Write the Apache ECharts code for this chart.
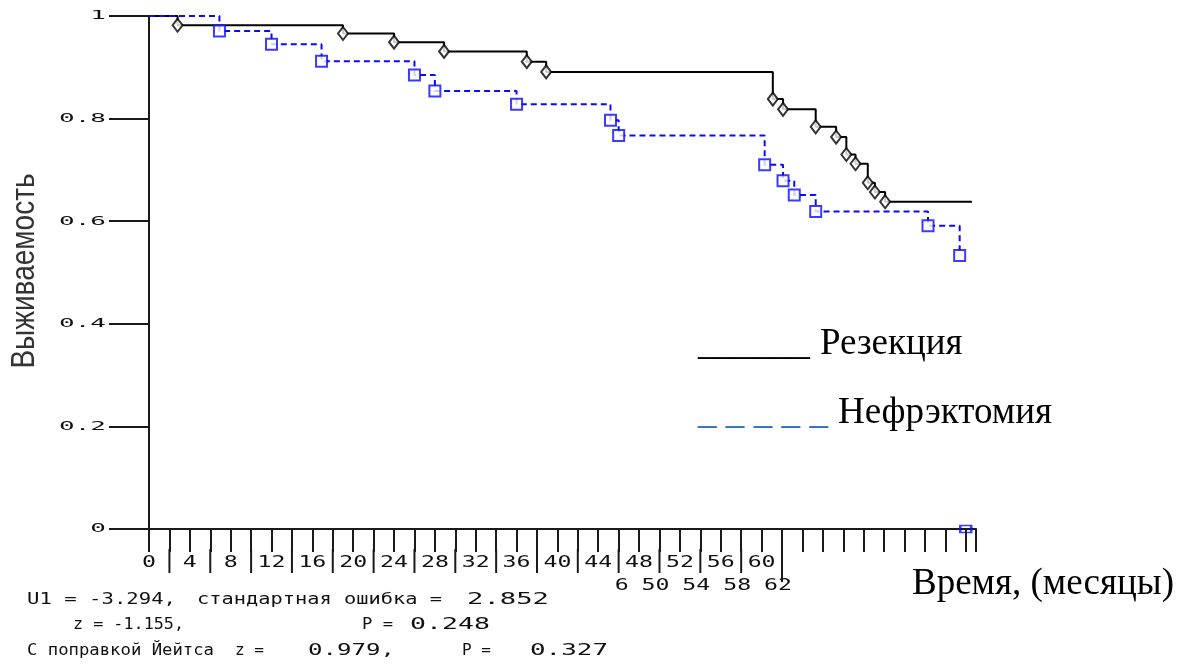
<!DOCTYPE html>
<html>
<head>
<meta charset="utf-8">
<script src="https://cdn.jsdelivr.net/npm/echarts@6/dist/echarts.min.js"></script>
<style>
  html, body { margin: 0; padding: 0; background: #fff; }
  #chart { width: 1184px; height: 664px; }
</style>
</head>
<body>
<div id="chart"></div>
<script>
// Kaplan–Meier survival estimates by month after surgery
const resectionMonths   = [0, 2.8, 19.0, 24.0, 28.9, 37.0, 38.9, 61.1, 62.1, 65.3, 67.3, 68.3, 69.2, 70.4, 71.1, 72.1, 80.6];
const resectionSurvival = [1, 0.982, 0.966, 0.949, 0.931, 0.911, 0.891, 0.838, 0.818, 0.784, 0.764, 0.730, 0.712, 0.675, 0.657, 0.638, 0.638];

const nephrectomyMonths   = [0, 6.9, 12.0, 16.9, 26.0, 28.0, 36.0, 45.2, 46.0, 60.3, 62.1, 63.2, 65.3, 76.3, 79.4];
const nephrectomySurvival = [1, 0.971, 0.945, 0.912, 0.885, 0.854, 0.828, 0.797, 0.767, 0.710, 0.679, 0.651, 0.619, 0.591, 0.533];
const nephrectomyAxisMark = [80, 0];

// axis tick labels
const yTickValues = [0, 0.2, 0.4, 0.6, 0.8, 1];
const yTickLabels = ['0', '0.2', '0.4', '0.6', '0.8', '1'];
const xTickValues = [0, 4, 8, 12, 16, 20, 24, 28, 32, 36, 40, 44, 48, 52, 56, 60];
const xTickLabels = ['0', '4', '8', '12', '16', '20', '24', '28', '32', '36', '40', '44', '48', '52', '56', '60'];
const xLowerValues = [46, 50, 54, 58, 62];
const xLowerLabels = ['6', '50', '54', '58', '62'];
const xLongTickValues = [2, 6, 10, 14, 18, 22, 26, 30, 34, 38, 42, 46, 50, 54, 58, 62];

// statistics printed under the plot
const statLine1 = ['U1 = -3.294,', 'стандартная ошибка =', '2.852'];
const statLine2 = ['z = -1.155,', 'P =', '0.248'];
const statLine3 = ['С поправкой Йейтса', 'z =', '0.979,', 'P =', '0.327'];

const seriesNames = ['Резекция', 'Нефрэктомия'];
const legendRules = ['______', '_ _ _ _ _'];
const xAxisTitle = 'Время, (месяцы)';
const yAxisTitle = 'Выживаемость';

const BLACK = '#000000';
const BLUE = '#0a0aff';
const AXIS = '#1a1a1a';
const MONO = '"DejaVu Sans Mono"';
const SERIF = '37px "Liberation Serif"';

const chart = echarts.init(document.getElementById('chart'), null, { renderer: 'canvas' });

const pairs = (xs, ys) => xs.map((x, i) => [x, ys[i]]);
const resectionLine = pairs(resectionMonths, resectionSurvival);
const nephrectomyLine = pairs(nephrectomyMonths, nephrectomySurvival);
const resectionMarks = resectionLine.slice(1, -1);
const nephrectomyMarks = nephrectomyLine.slice(1);

chart.setOption({
  animation: false,
  backgroundColor: '#ffffff',
  grid: { left: 149, top: 16, right: 208, bottom: 135, containLabel: false },
  xAxis: {
    type: 'value', min: 0, max: 81, interval: 2,
    axisLine: { show: true, lineStyle: { color: AXIS, width: 2 } },
    axisTick: { show: true, length: 23, lineStyle: { color: AXIS, width: 2 } },
    axisLabel: { show: false },
    splitLine: { show: false }
  },
  yAxis: {
    type: 'value', min: 0, max: 1, interval: 0.2,
    axisLine: { show: true, lineStyle: { color: AXIS, width: 2 } },
    axisTick: { show: true, length: 40, lineStyle: { color: AXIS, width: 2 } },
    axisLabel: { show: false },
    splitLine: { show: false }
  },
  series: [
    {
      name: seriesNames[0], type: 'line', step: 'end', data: resectionLine,
      showSymbol: false, clip: false, z: 2,
      lineStyle: { color: BLACK, width: 2 }, emphasis: { disabled: true }
    },
    {
      name: seriesNames[1], type: 'line', step: 'end', data: nephrectomyLine,
      showSymbol: false, clip: false, z: 3,
      lineStyle: { color: BLUE, width: 2, type: [6, 4] }, emphasis: { disabled: true }
    },
    {
      name: seriesNames[0] + ' marks', type: 'scatter', data: resectionMarks,
      symbol: 'diamond', symbolSize: [10, 13], clip: false, z: 4,
      itemStyle: { color: '#ffffff', borderColor: BLACK, borderWidth: 2 },
      emphasis: { disabled: true }
    },
    {
      name: seriesNames[1] + ' marks', type: 'scatter', data: nephrectomyMarks,
      symbol: 'rect', symbolSize: 11, clip: false, z: 5,
      itemStyle: { color: '#ffffff', borderColor: BLUE, borderWidth: 2 },
      emphasis: { disabled: true }
    },
    {
      name: seriesNames[1] + ' end', type: 'scatter', data: [nephrectomyAxisMark],
      symbol: 'rect', symbolSize: [11, 7], clip: false, z: 5,
      itemStyle: { color: 'rgba(0,0,0,0)', borderColor: BLUE, borderWidth: 2 },
      emphasis: { disabled: true }
    }
  ]
});

// ---- text and extra tick decorations placed through the axis scales ----
const measureCtx = document.createElement('canvas').getContext('2d');
function measure(text, font) { measureCtx.font = font; return measureCtx.measureText(text).width; }
const px = v => chart.convertToPixel({ gridIndex: 0 }, [v, 0])[0];
const py = v => chart.convertToPixel({ gridIndex: 0 }, [0, v])[1];
const axisY = py(0);

function plainText(text, x, y, font, color, scaleX, align) {
  return {
    type: 'text', x: x, y: y, scaleX: scaleX, silent: true, z: 10,
    style: { text: text, font: font, fill: color, align: align, textAlign: align,
             verticalAlign: 'middle', textVerticalAlign: 'middle' }
  };
}
function monoText(text, x, y, size, scaleX, align) {
  return plainText(text, x, y, size + 'px ' + MONO, '#111', scaleX, align);
}
function fittedText(text, x0, x1, y, font, color) {
  return plainText(text, x0, y, font, color, (x1 - x0) / measure(text, font), 'left');
}

const graphics = [];

// y tick labels
yTickValues.forEach((v, i) => {
  graphics.push(monoText(yTickLabels[i], 106, py(v), 13, 2.0, 'right'));
});
// x tick labels, first row
xTickValues.forEach((v, i) => {
  graphics.push(monoText(xTickLabels[i], px(v), axisY + 34, 16, 1.45, 'center'));
});
// x tick labels, second row
xLowerValues.forEach((v, i) => {
  const lbl = xLowerLabels[i];
  const cx = px(v) - 4 + (lbl.length === 1 ? 7 : 0);
  graphics.push(monoText(lbl, cx, axisY + 57, 16, 1.45, 'center'));
});
// longer separator ticks between labels
xLongTickValues.forEach(v => {
  const x = px(v);
  const extra = v === 62 ? 53 : 44;
  graphics.push({ type: 'line', silent: true, z: 1,
    shape: { x1: x, y1: axisY + 20, x2: x, y2: axisY + extra },
    style: { stroke: AXIS, lineWidth: 2 } });
});

// statistics block
const statFont = '15px ' + MONO;
const row1 = 600, row2 = 625, row3 = 651;
graphics.push(fittedText(statLine1[0], 27, 176, row1, statFont, '#111'));
graphics.push(fittedText(statLine1[1], 197, 442, row1, statFont, '#111'));
graphics.push(fittedText(statLine1[2], 467, 549, row1, statFont, '#111'));
graphics.push(fittedText(statLine2[0], 73, 184, row2, statFont, '#111'));
graphics.push(fittedText(statLine2[1], 362, 393, row2, statFont, '#111'));
graphics.push(fittedText(statLine2[2], 410, 490, row2, statFont, '#111'));
graphics.push(fittedText(statLine3[0], 27, 214, row3, statFont, '#111'));
graphics.push(fittedText(statLine3[1], 235, 264, row3, statFont, '#111'));
graphics.push(fittedText(statLine3[2], 308, 395, row3, statFont, '#111'));
graphics.push(fittedText(statLine3[3], 462, 491, row3, statFont, '#111'));
graphics.push(fittedText(statLine3[4], 530, 608, row3, statFont, '#111'));

// legend written as text with underscore rules
graphics.push(fittedText(legendRules[0], 698, 810, 344, SERIF, BLACK));
graphics.push(plainText(seriesNames[0], 820, 344, SERIF, BLACK, 1, 'left'));
graphics.push(fittedText(legendRules[1], 698, 828, 413, SERIF, '#2f6fc4'));
graphics.push(plainText(seriesNames[1], 838, 413, SERIF, BLACK, 1, 'left'));

// axis titles
graphics.push(plainText(xAxisTitle, 912, 584, SERIF, BLACK, 1, 'left'));
graphics.push({
  type: 'text', x: 25, y: 271, rotation: Math.PI / 2, scaleY: 1.2, silent: true, z: 10,
  style: { text: yAxisTitle, font: '28px "Liberation Sans"', fill: '#333',
           align: 'center', textAlign: 'center', verticalAlign: 'middle', textVerticalAlign: 'middle' }
});

chart.setOption({ graphic: { elements: graphics } });
</script>
</body>
</html>
